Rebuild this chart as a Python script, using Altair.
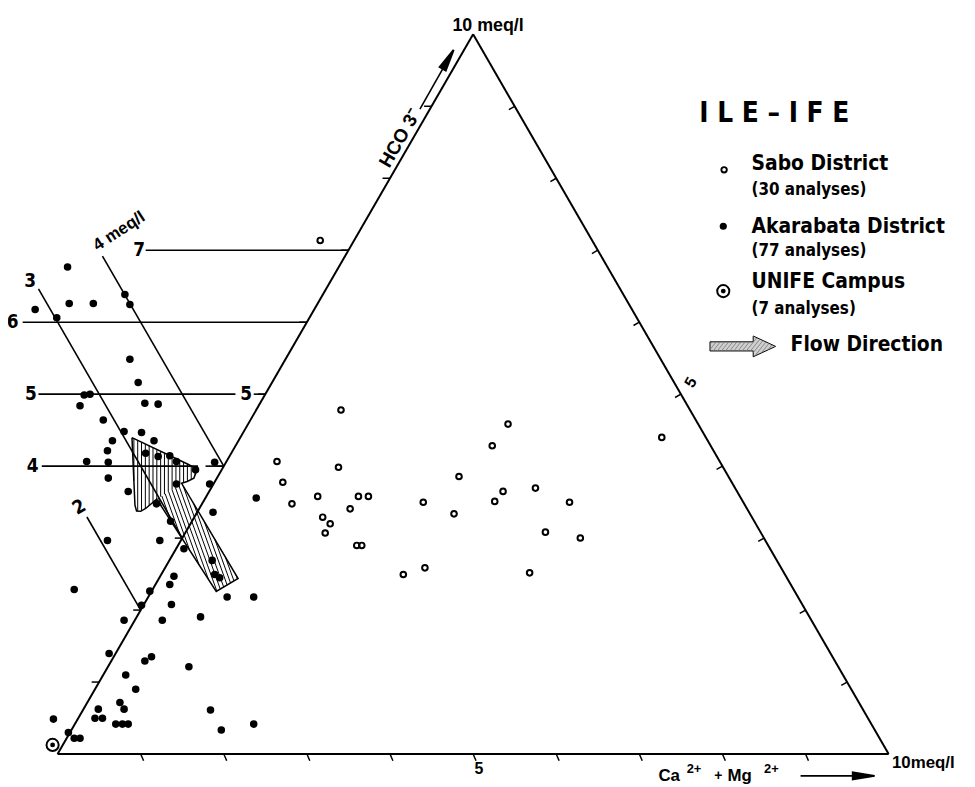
import altair as alt
import pandas as pd
import numpy as np

# ---------------- data (triangle plane, meq/l units; base = Ca2+ + Mg2+) ----------------
aka_x = [-0.27, 0.12, 0.14, 0.43, -0.01, 0.81, 0.87, 0.87, 0.97, 0.32, 0.39, 0.27, 1.05, 1.21,
         0.55, 0.80, 1.01, 0.66, 1.16, 0.60, 1.06, 1.21, 1.35, 1.43, 0.35, 0.61, 1.66, 1.89,
         0.61, 1.43, 1.83, 0.85, 2.39, 1.19, 1.87, 1.36,
         0.60, 1.23, 1.52, 0.20, 1.86, 1.89, 1.95, 1.40, 1.35, 1.11, 1.01, 2.04, 2.36, 1.37,
         0.80, 1.26, 1.72, 0.62, 1.05, 1.13, 1.58, 0.82, 0.94, 0.75, 0.80, 0.49, 0.45, 0.54,
         0.70, 0.78, 0.85, -0.05, 1.84, 1.97, 2.36, 0.13, 0.20, 0.27]
aka_y = [5.35, 5.86, 5.42, 5.42, 5.25, 5.53, 5.41, 4.75, 4.47, 4.32, 4.33, 4.19, 4.22, 4.21,
         4.02, 3.88, 3.87, 3.77, 3.77, 3.65, 3.62, 3.58, 3.59, 3.52, 3.52, 3.51, 3.42, 3.51,
         3.32, 3.25, 3.25, 3.16, 3.08, 3.01, 2.91, 2.80,
         2.57, 2.57, 2.47, 1.98, 2.33, 2.16, 2.12, 2.14, 2.04, 1.96, 1.79, 1.89, 1.89, 1.80,
         1.61, 1.61, 1.65, 1.21, 1.12, 1.17, 1.05, 0.95, 0.78, 0.62, 0.54, 0.54, 0.43, 0.43,
         0.36, 0.36, 0.36, 0.42, 0.53, 0.29, 0.36, 0.26, 0.19, 0.19]

sabo_x = [3.41, 5.42, 5.23, 2.64, 3.38, 4.83, 2.71, 5.75, 5.36, 3.13, 3.62, 3.74, 4.40, 5.26,
          6.16, 2.82, 3.52, 4.77, 3.19, 3.28, 5.87, 3.22, 6.29, 3.60, 3.66, 4.42, 4.16, 5.68,
          3.16, 7.27]
sabo_y = [4.14, 3.97, 3.71, 3.52, 3.45, 3.34, 3.27, 3.20, 3.16, 3.10, 3.10, 3.10, 3.03, 3.04,
          3.03, 3.01, 2.95, 2.89, 2.85, 2.77, 2.67, 2.66, 2.60, 2.51, 2.51, 2.24, 2.16, 2.18,
          6.18, 3.81]

unife_x = [-0.06]
unife_y = [0.11]

# HCO3 reference levels drawn as horizontal lines, and diagonal guide levels
h_levels = [7, 6, 5, 4]
d_levels = [4, 3, 2]
axis_ticks = [1, 2, 3, 4, 5, 6, 7, 8, 9]

# flow arrow outline (meq/l plane)
arrow_head = [(0.895, 3.807), (1.575, 3.484), (1.650, 3.440), (1.671, 3.400), (1.640, 3.320),
              (1.560, 3.280), (1.492, 3.258), (1.193, 3.067), (1.060, 2.955), (1.000, 2.920),
              (0.950, 2.925), (0.931, 2.995)]
arrow_shaft = [(1.492, 3.258), (2.172, 2.112), (1.909, 1.957), (1.193, 3.067)]

legend_names = ["Sabo District", "Akarabata District", "UNIFE Campus"]
legend_counts = ["(30 analyses)", "(77 analyses)", "(7 analyses)"]

# ---------------- layout ----------------
PX = 83.8
W, H = 967, 779
XMIN = -(58 - 8) / PX
XMAX = XMIN + W / PX
YMAX = (757 - 8) / PX
YMIN = YMAX - H / PX
XS = alt.Scale(domain=[XMIN, XMAX], nice=False, zero=False)
YS = alt.Scale(domain=[YMIN, YMAX], nice=False, zero=False)
R3 = np.sqrt(3) / 2

FONT = "Liberation Sans Narrow, DejaVu Sans Condensed, Liberation Sans, sans-serif"
FONT2 = "Liberation Sans, Arial, sans-serif"


def X(f="x"):
    return alt.X(f"{f}:Q", scale=XS, axis=None)


def Y(f="y"):
    return alt.Y(f"{f}:Q", scale=YS, axis=None)


segs = []


def seg(x1, y1, x2, y2, w=1.6):
    segs.append(dict(x=x1, y=y1, x2=x2, y2=y2, w=w))


# triangle
seg(0, 0, 10, 0, 2.0)
seg(10, 0, 5, 10 * R3, 2.0)
seg(5, 10 * R3, 0, 0, 2.0)
for i in axis_ticks:
    seg(i, 0, i + 0.035, -0.08, 1.5)                      # base ticks
    seg(0.5 * i, R3 * i, 0.5 * i - 0.09, R3 * i, 1.5)      # left-edge ticks
    px_, py_ = 5 + 0.5 * i, 10 * R3 - R3 * i
    seg(px_, py_, px_ - 0.07, py_ - 0.04, 1.5)             # right-edge ticks

# horizontal HCO3 lines
seg(1.06, 7 * R3, 3.5, 7 * R3)
seg(-0.42, 6 * R3, 3.0, 6 * R3)
seg(-0.23, 5 * R3, 2.14, 5 * R3)
seg(2.36, 5 * R3, 2.5, 5 * R3)
seg(-0.19, 4 * R3, 1.69, 4 * R3)
seg(1.78, 4 * R3, 2.0, 4 * R3)
# diagonal lines
seg(2.0, 4 * R3, 0.54, 5.99)
seg(1.5, 3 * R3, -0.23, 5.597)
seg(1.0, 2 * R3, 0.353, 2.852)
# axis arrows (shafts)
seg(4.36, 7.76, 4.66, 8.29, 1.6)
seg(8.94, -0.263, 9.60, -0.263, 1.6)

seg_df = pd.DataFrame(segs)
rules = alt.Chart(seg_df).mark_rule(color="black").encode(
    x=X(), y=Y(), x2="x2:Q", y2="y2:Q", strokeWidth=alt.StrokeWidth("w:Q", scale=None))


# hatch for the flow arrow
def hatch(poly, k, spacing):
    pts = np.array(poly)
    u = pts[:, 0] + k * pts[:, 1]
    out = []
    n = len(pts)
    for c in np.arange(u.min() + spacing / 2, u.max(), spacing):
        inter = []
        for i in range(n):
            p, q = pts[i], pts[(i + 1) % n]
            up, uq = u[i], u[(i + 1) % n]
            if (up - c) * (uq - c) < 0:
                t = (c - up) / (uq - up)
                inter.append(p + t * (q - p))
        inter.sort(key=lambda a: a[1])
        for j in range(0, len(inter) - 1, 2):
            out.append(dict(x=inter[j][0], y=inter[j][1], x2=inter[j + 1][0], y2=inter[j + 1][1]))
    return out


hatch_df = pd.DataFrame(hatch(arrow_head, 0.0, 0.046) + hatch(arrow_shaft, 0.36, 0.05))
hatch_layer = alt.Chart(hatch_df).mark_rule(color="black", strokeWidth=1.0).encode(
    x=X(), y=Y(), x2="x2:Q", y2="y2:Q")

outline = arrow_head[:7] + arrow_shaft[1:3] + arrow_head[7:] + [arrow_head[0]]
out_df = pd.DataFrame({"x": [p[0] for p in outline], "y": [p[1] for p in outline],
                       "o": list(range(len(outline)))})
outline_layer = alt.Chart(out_df).mark_line(color="black", strokeWidth=1.5).encode(
    x=X(), y=Y(), order="o:Q")

# legend arrow
la = [(7.85, 4.96), (8.37, 4.96), (8.37, 5.03), (8.64, 4.905), (8.37, 4.78), (8.37, 4.85),
      (7.85, 4.85), (7.85, 4.96)]
la_df = pd.DataFrame({"x": [p[0] for p in la], "y": [p[1] for p in la], "o": list(range(len(la)))})
leg_arrow = alt.Chart(la_df).mark_line(color="black", strokeWidth=1.0, fill="#cfcfcf").encode(
    x=X(), y=Y(), order="o:Q")
la_hatch = pd.DataFrame(hatch(la[:-1], -0.8, 0.05))
leg_arrow_hatch = alt.Chart(la_hatch).mark_rule(color="#777777", strokeWidth=0.8).encode(
    x=X(), y=Y(), x2="x2:Q", y2="y2:Q")

# points
aka = alt.Chart(pd.DataFrame({"x": aka_x, "y": aka_y})).mark_circle(
    size=58, color="black", opacity=1).encode(x=X(), y=Y())
sabo = alt.Chart(pd.DataFrame({"x": sabo_x, "y": sabo_y})).mark_point(
    shape="circle", filled=False, size=32, stroke="black", strokeWidth=2.0, opacity=1).encode(x=X(), y=Y())
unife_ring = alt.Chart(pd.DataFrame({"x": unife_x + [8.01], "y": unife_y + [5.57]})).mark_point(
    shape="circle", filled=False, size=150, stroke="black", strokeWidth=2.0, opacity=1).encode(x=X(), y=Y())
unife_dot = alt.Chart(pd.DataFrame({"x": unife_x + [8.01], "y": unife_y + [5.57]})).mark_circle(
    size=24, color="black", opacity=1).encode(x=X(), y=Y())
leg_sabo = alt.Chart(pd.DataFrame({"x": [8.02], "y": [7.03]})).mark_point(
    shape="circle", filled=False, size=30, stroke="black", strokeWidth=1.9, opacity=1).encode(x=X(), y=Y())
leg_aka = alt.Chart(pd.DataFrame({"x": [8.01], "y": [6.35]})).mark_circle(
    size=52, color="black", opacity=1).encode(x=X(), y=Y())

# arrowheads
heads = alt.Chart(pd.DataFrame({"x": [4.70, 9.70], "y": [8.36, -0.263], "a": [30, 90]})).mark_point(
    shape="M0,-1L0.32,1L-0.32,1Z", filled=True, fill="black", stroke="black", size=484, opacity=1
).encode(x=X(), y=Y(), angle=alt.Angle("a:Q", scale=None))


def texts(rows, **kw):
    df = pd.DataFrame(rows, columns=["x", "y", "t", "s", "a"])
    return alt.Chart(df).mark_text(color="black", **kw).encode(
        x=X(), y=Y(), text="t:N", size=alt.Size("s:Q", scale=None), angle=alt.Angle("a:Q", scale=None))


num_labels = texts([
    (0.98, 7 * R3, "7", 19, 0), (-0.54, 6 * R3, "6", 19, 0), (-0.32, 5 * R3, "5", 19, 0),
    (2.27, 5 * R3, "5", 19, 0), (-0.30, 4 * R3, "4", 19, 0), (-0.33, 5.69, "3", 19, 0),
    (0.26, 2.97, "2", 19, 330),
], font=FONT, fontWeight="bold", align="center", baseline="middle")

axis_labels = texts([
    (5.18, 8.76, "10 meq/l", 18, 0), (4.12, 7.41, "HCO 3\u207b", 19, 300),
    (0.74, 6.29, "4 meq/l", 17, 327), (7.62, 4.47, "5", 16, 300), (5.07, -0.18, "5", 16, 0),
], font=FONT2, fontWeight="bold", align="center", baseline="middle")

right_labels = texts([
    (10.04, -0.11, "10meq/l", 17, 0),
    (7.23, -0.27, "Ca", 17, 0), (7.57, -0.18, "2+", 13, 0), (7.90, -0.27, "+", 14, 0),
    (8.06, -0.27, "Mg", 17, 0), (8.50, -0.18, "2+", 13, 0),
], font=FONT2, fontWeight="bold", align="left", baseline="middle")

legend_text = texts([
    (7.72, 7.70, "I L E  \u2013  I F E", 28, 0),
    (8.35, 7.10, legend_names[0], 21, 0), (8.35, 6.79, legend_counts[0], 17, 0),
    (8.35, 6.34, legend_names[1], 21, 0), (8.35, 6.05, legend_counts[1], 17, 0),
    (8.35, 5.68, legend_names[2], 21, 0), (8.35, 5.35, legend_counts[2], 17, 0),
    (8.82, 4.92, "Flow Direction", 21, 0),
], font=FONT, fontWeight="bold", align="left", baseline="middle")

chart = alt.layer(
    hatch_layer, outline_layer, rules, heads, aka, sabo, unife_ring, unife_dot,
    leg_sabo, leg_aka, leg_arrow, leg_arrow_hatch, num_labels, axis_labels, right_labels, legend_text
).properties(
    width=W, height=H, autosize=alt.AutoSizeParams(type="none"), padding=0, background="white"
).configure_view(stroke=None)

chart.save("out.html", embed_options={"renderer": "svg", "actions": False})
